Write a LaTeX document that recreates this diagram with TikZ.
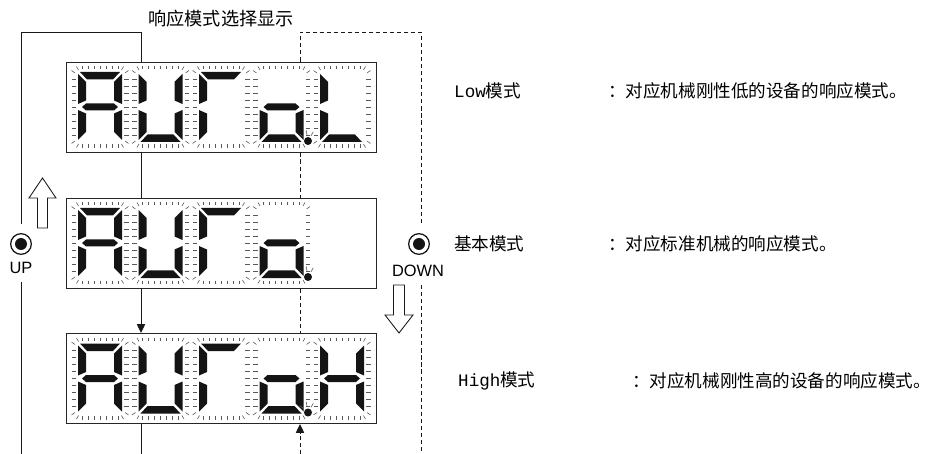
\documentclass[tikz,border=0pt]{standalone}
\usepackage{fontspec}
\setmainfont{Noto Sans CJK SC}
\newfontfamily\btnfont{Liberation Sans}
\newfontfamily\codefont{Liberation Mono}
\usetikzlibrary{arrows.meta}

% seven-segment pieces, drawn around the cell centre
\newcommand{\sega}{\fill[segfill] (-20,-35) -- (20,-35) -- (13,-27.5) -- (-13,-27.5) -- cycle;}
\newcommand{\segb}{\fill[segfill] (14,-25) -- (22,-33) -- (22,-3) -- (14,-6.5) -- cycle;}
\newcommand{\segc}{\fill[segfill] (14,6.5) -- (22,3) -- (22,33) -- (14,25) -- cycle;}
\newcommand{\segd}{\fill[segfill] (-13,27.5) -- (13,27.5) -- (20,35) -- (-20,35) -- cycle;}
\newcommand{\sege}{\fill[segfill] (-14,6.5) -- (-22,3) -- (-22,33) -- (-14,25) -- cycle;}
\newcommand{\segf}{\fill[segfill] (-14,-25) -- (-22,-33) -- (-22,-3) -- (-14,-6.5) -- cycle;}
\newcommand{\segg}{\fill[segfill] (-18,0) -- (-14,-3.5) -- (14,-3.5) -- (18,0) -- (14,3.5) -- (-14,3.5) -- cycle;}

% one digit cell: tick marks round it, then the lit segments
\newcommand{\digit}[3]{%
  \begin{scope}[shift={(#1,#2)}]
    \foreach \t in {-18,-12,...,18} {
      \draw[glow] (\t,-41) -- (\t,-37.5);
      \draw[glow] (\t,37.5) -- (\t,41);
    }
    \foreach \s in {-28,-21,...,28} {
      \draw[glow] (-28.5,\s) -- (-24,\s);
      \draw[glow] (24,\s) -- (28.5,\s);
    }
    \foreach \sx/\sy in {1/1,-1/1,1/-1,-1/-1} {
      \draw[glow] ({\sx*21.5},{\sy*37}) -- ({\sx*23.5},{\sy*40.5});
      \draw[glow] ({\sx*25},{\sy*34}) -- ({\sx*28.5},{\sy*36.5});
    }
    #3
  \end{scope}}

% decimal point with its small rays
\newcommand{\dpoint}[2]{%
  \begin{scope}[shift={(#1,#2)}]
    \fill[segfill] (0,0) circle (4);
    \draw[glow] (-1,-6) -- (-1.8,-10.5);
    \draw[glow] (-4.6,-4) -- (-8.2,-6.8);
    \draw[glow] (3,-5.2) -- (5.3,-9.2);
  \end{scope}}

\begin{document}
\begin{tikzpicture}[x=0.03cm, y=-0.03cm,
  dispbox/.style={draw=black!85, line width=0.8pt, minimum width=9.3cm,
    minimum height=2.7cm, inner sep=0pt},
  segfill/.style={fill=black!92},
  glow/.style={draw=black!65, line width=0.5pt},
  solidline/.style={draw=black!90, line width=0.75pt},
  dashline/.style={draw=black!90, line width=0.75pt, dash pattern=on 3.5pt off 2.5pt},
  flow/.style={-{Triangle[length=7.5pt,width=7pt]}},
  hollow/.style={draw=black!90, line width=0.75pt, fill=white, line join=miter},
  btn/.style={circle, draw=black!90, line width=1.1pt, minimum size=0.62cm,
    inner sep=0pt, outer sep=0.3cm},
  btnlabel/.style={font=\btnfont\fontsize{14}{16}\selectfont, inner sep=0pt, outer sep=0.25cm},
  title/.style={font=\fontsize{15.5}{18}\selectfont, inner sep=0pt},
  mode/.style={font=\fontsize{15}{18}\selectfont, inner sep=0pt, anchor=west}]
\useasboundingbox (0,0) rectangle (942,454);

% Display boxes
\node[dispbox] (low) at (221,107) {};
\node[dispbox] (base) at (221,243) {};
\node[dispbox] (high) at (221,378.5) {};

% Digits: A U r o L / A U r o / A U r o H
\foreach \y in {107,243,378.5} {
  \digit{100}{\y}{\sega\segb\segc\sege\segf\segg}
  \digit{160.5}{\y}{\segb\segc\segd\sege\segf}
  \digit{221}{\y}{\sega\sege\segf}
  \digit{281.5}{\y}{\segc\segd\sege\segg}
  \dpoint{308}{\y+34}
}
\digit{342}{107}{\segd\sege\segf}
\digit{342}{378.5}{\segb\segc\sege\segf\segg}

% Title
\node[title] (ttl) at (221,18.5) {响应模式选择显示};

% Buttons
\node[btn] (upbtn) at (21,244) {};
\fill[segfill] (upbtn.center) circle (6);
\node[btnlabel] (uplabel) at (21,268) {UP};
\node[btn] (dnbtn) at (419,244) {};
\fill[segfill] (dnbtn.center) circle (6);
\node[btnlabel] (dnlabel) at (418,271) {DOWN};

% Loop corners
\coordinate (tl) at (21,32);
\coordinate (sx) at (141,32);
\coordinate (dx) at (300,32);
\coordinate (tr) at (421,32);
\coordinate (foot) at (0,454);

% Solid path (UP)
\draw[solidline] (low.north -| sx) -- (sx) -- (tl) -- (upbtn.north);
\draw[solidline] (uplabel.south) -- (uplabel.south |- foot);
\draw[solidline] (low.south -| sx) -- (base.north -| sx);
\draw[solidline, flow] (base.south -| sx) -- (high.north -| sx);
\draw[solidline] (high.south -| sx) -- (sx |- foot);

% Dashed path (DOWN)
\draw[dashline] (low.north -| dx) -- (dx) -- (tr) -- (dnbtn.north -| tr);
\draw[dashline] (dnlabel.south -| tr) -- (tr |- foot);
\draw[dashline] (low.south -| dx) -- (base.north -| dx);
\draw[dashline] (base.south -| dx) -- (high.north -| dx);
\draw[dashline, flow] (dx |- foot) -- (high.south -| dx);

% Hollow direction arrows
\draw[hollow] (37.5,228) -- (37.5,198) -- (29,198) -- (42.5,178) -- (56,198)
  -- (47.5,198) -- (47.5,228) -- cycle;
\draw[hollow] (393.5,285) -- (393.5,315) -- (385,315) -- (399,333) -- (413,315)
  -- (404.5,315) -- (404.5,285) -- cycle;

% Mode descriptions
\node[mode] (lowname) at (454,91) {{\codefont Low}模式};
\node[mode] (lowdesc) at (608,91) {：对应机械刚性低的设备的响应模式。};
\node[mode] (basename) at (454,243.5) {基本模式};
\node[mode] (basedesc) at (608,243.5) {：对应标准机械的响应模式。};
\node[mode] (highname) at (458,381) {{\codefont High}模式};
\node[mode] (highdesc) at (632,381) {：对应机械刚性高的设备的响应模式。};
\end{tikzpicture}
\end{document}
